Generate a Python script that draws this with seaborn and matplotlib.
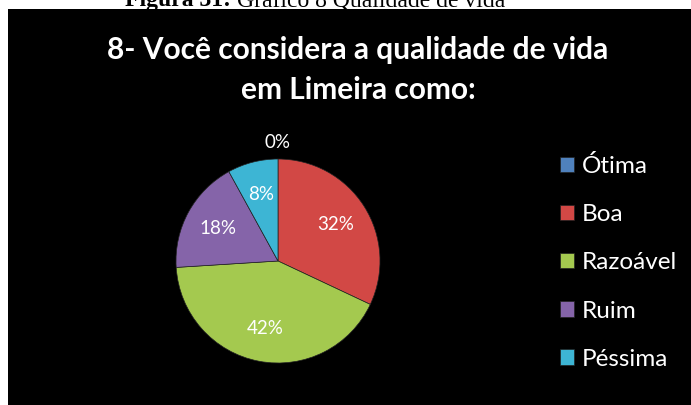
import matplotlib
matplotlib.use("Agg")
import matplotlib.pyplot as plt
import seaborn as sns

# Data
categories = ["Ótima", "Boa", "Razoável", "Ruim", "Péssima"]
percent = [0, 32, 42, 18, 8]
colors = ["#4F81BD", "#D24845", "#A4C94F", "#8564A9", "#3DB5D4"]

title = "8- Você considera a qualidade de vida\nem Limeira como:"

sns.set_theme(style="white")
plt.rcParams["font.family"] = ["Lato", "DejaVu Sans"]

W, H = 691, 405
fig = plt.figure(figsize=(W / 100, H / 100), dpi=100, facecolor="white")

# black chart area under the cut-off caption
bg = fig.add_axes([8 / W, 0, 1 - 8 / W, 1 - 9 / H])
bg.set_facecolor("black")
bg.set_xticks([])
bg.set_yticks([])
for s in bg.spines.values():
    s.set_visible(False)

# caption of the document, mostly cut off at the top (as in the source)
cap1 = fig.text(125 / W, 1 - 6 / H, "Figura 31: ", family="Liberation Serif",
                fontweight="bold", fontsize=17, color="black", va="baseline", ha="left")
fig.canvas.draw()
ext = cap1.get_window_extent()
fig.text(ext.x1 / W, 1 - 6 / H, "Gráfico 8 Qualidade de vida", family="Liberation Serif",
         fontsize=17, color="black", va="baseline", ha="left")

fig.text(358 / W, 1 - 70 / H, title, color="white", fontsize=21.5, fontweight="bold",
         ha="center", va="center", linespacing=1.5)

# pie
cx, cy, r = 278, 261, 102
ax = fig.add_axes([(cx - r) / W, (H - cy - r) / H, 2 * r / W, 2 * r / H])
ax.set_facecolor("none")
pal = sns.color_palette(colors)

outside = [f"{p}%" if p == 0 else "" for p in percent]
wedges, texts, autotexts = ax.pie(
    percent, colors=pal, startangle=90, counterclock=False,
    labels=outside, labeldistance=1.16,
    autopct=lambda v: f"{v:.0f}%" if v > 0.5 else "", pctdistance=0.67,
    wedgeprops=dict(edgecolor="#222222", linewidth=0.5),
    textprops=dict(color="white", fontsize=13.5),
)
for t in texts:
    t.set_ha("center")
    t.set_va("center")
ax.set_xlim(-1, 1)
ax.set_ylim(-1, 1)
ax.set_aspect("equal")
ax.axis("off")

leg = fig.legend(wedges, categories, loc="upper left",
                 bbox_to_anchor=(538 / W, 1 - 133 / H), frameon=False,
                 fontsize=17.5, labelcolor="white", handlelength=0.6,
                 handleheight=0.6, handletextpad=0.3, labelspacing=1.12)

fig.savefig("out.png", dpi=100, facecolor="white")
